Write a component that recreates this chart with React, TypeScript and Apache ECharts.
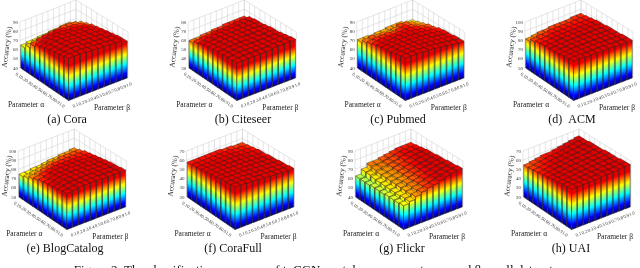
import React, { useEffect, useRef } from "react";
import * as echarts from "echarts";

const alphaTicks = ["0.1","0.2","0.3","0.4","0.5","0.6","0.7","0.8","0.9","1.0"];
const betaTicks = ["0.1","0.2","0.3","0.4","0.5","0.6","0.7","0.8","0.9","1.0"];

const cora = [
  [65,66,66,67,67,68,68,69,69,67],
  [69,70,71,72,73,73,74,74,73,71],
  [74,76,77,77,78,77,76,76,75,73],
  [77,79,80,80,80,79,79,78,77,75],
  [79,81,82,82,81,81,80,80,79,76],
  [81,82,83,83,82,82,81,81,80,77],
  [82,83,84,84,83,83,82,82,81,78],
  [83,84,85,84,84,83,83,82,82,79],
  [84,85,85,85,84,84,83,83,82,80],
  [86,86,86,85,85,84,84,83,83,80],
];
const citeseer = [
  [60,60,61,61,62,62,63,63,63,63],
  [63,64,64,65,65,65,65,66,66,66],
  [65,66,67,67,67,67,67,67,67,67],
  [67,67,68,68,68,68,68,68,68,67],
  [68,68,69,69,69,69,69,69,68,68],
  [69,69,70,70,70,69,69,69,69,69],
  [69,70,70,70,70,70,70,69,70,69],
  [70,70,71,71,70,70,70,70,70,70],
  [70,71,71,71,71,71,71,71,71,71],
  [71,71,71,71,71,71,72,72,72,72],
];
const pubmed = [
  [71,71,70,71,71,72,72,72,70,69],
  [74,75,74,74,73,74,76,75,73,71],
  [76,77,77,77,76,77,78,76,74,73],
  [78,79,79,79,79,79,79,78,76,75],
  [80,80,80,81,81,81,80,79,78,76],
  [81,82,82,82,82,81,81,80,79,78],
  [82,83,83,83,83,82,81,81,80,79],
  [83,84,84,84,84,83,82,81,80,79],
  [85,85,85,85,84,84,83,82,81,80],
  [86,86,86,85,85,84,83,82,81,80],
];
const acm = [
  [82,83,84,84,85,85,85,85,86,86],
  [85,86,86,87,87,87,87,87,87,87],
  [87,87,88,88,88,88,88,88,88,88],
  [88,88,89,89,89,89,89,89,89,89],
  [89,89,89,90,90,90,90,90,90,89],
  [89,90,90,90,90,90,90,90,90,90],
  [90,90,91,91,91,91,91,90,90,90],
  [91,91,91,91,91,91,91,91,91,90],
  [92,92,92,92,92,92,91,91,91,91],
  [93,93,92,92,92,92,92,91,91,91],
];
const blogCatalog = [
  [75,75,76,76,77,78,78,79,79,80],
  [77,78,79,80,81,81,82,82,82,82],
  [80,81,82,83,84,84,84,84,84,84],
  [82,84,85,86,86,86,86,86,85,85],
  [84,85,87,87,87,87,87,87,86,86],
  [85,87,88,88,89,88,88,88,87,87],
  [86,88,89,89,89,89,89,88,88,88],
  [87,89,90,90,90,90,89,89,89,89],
  [88,89,90,90,90,90,90,90,89,89],
  [89,90,91,91,91,91,90,90,90,90],
];
const coraFull = [
  [58,58,58,58,58,58,57,57,56,56],
  [59,59,59,59,59,59,59,58,58,57],
  [60,60,60,60,60,60,60,59,59,58],
  [61,61,61,61,61,61,60,60,59,59],
  [62,62,62,62,61,61,61,60,60,59],
  [63,63,63,62,62,62,61,61,60,60],
  [64,64,63,63,63,62,62,61,61,60],
  [65,64,64,64,63,63,62,62,61,61],
  [65,65,65,64,64,63,63,62,62,61],
  [66,66,65,65,64,64,63,63,62,62],
];
const flickr = [
  [63,68,72,72,73,74,75,76,76,76],
  [63,68,71,72,73,74,76,77,77,77],
  [63,67,70,71,73,74,76,77,78,78],
  [64,67,70,71,73,75,76,78,78,79],
  [64,67,70,71,73,75,77,78,79,79],
  [64,67,70,71,73,75,77,78,79,80],
  [65,67,70,72,73,75,77,78,80,80],
  [65,67,70,72,74,76,77,79,80,81],
  [65,68,70,72,74,76,78,79,80,81],
  [66,68,71,73,75,76,78,80,81,82],
];
const uai = [
  [55,56,57,58,58,59,60,61,62,63],
  [56,57,58,59,60,60,61,62,63,63],
  [57,58,59,60,60,61,62,62,63,64],
  [58,59,60,60,61,62,62,63,64,64],
  [59,60,60,61,62,62,63,63,64,64],
  [60,60,61,62,62,63,63,64,64,65],
  [61,61,62,62,63,63,64,64,65,65],
  [62,62,62,63,63,64,64,65,65,65],
  [63,63,63,63,64,64,65,65,65,66],
  [64,64,64,64,64,65,65,65,66,66],
];

const panelNames = ["(a) Cora","(b) Citeseer","(c) Pubmed","(d)  ACM","(e) BlogCatalog","(f) CoraFull","(g) Flickr","(h) UAI"];
const panelValues = [cora,citeseer,pubmed,acm,blogCatalog,coraFull,flickr,uai];
const zMins = [40,30,40,50,50,20,40,20];
const zMaxs = [90,80,90,100,100,70,90,70];
const colorMaxs = [82,69,84,93,90,64,82,64];
const originX = [20,188.3,356.7,525,18.3,186.5,355,523];
const originY = [68,68,68,68,197,197,197,197];
const captionX = [67,243,398,572,65,233,402,571];
const captionY = [119,119,119,119,248,248,248,248];
const figureCaption = "Figure 2: The classification accuracy of toCGN w.r.t. hyperparameters \u03b1 and \u03b2 on all datasets.";

const SERIF = '"Liberation Serif", "Times New Roman", serif';
const WALL = 46;
const FRONT = [48.5, 33];
const RIGHT = [108, 10];
const BACK = [56, -22];
const BAR = 0.86;

function base(a: number, b: number) {
  const x = (1 - b) * a * FRONT[0] + b * (1 - a) * BACK[0] + a * b * RIGHT[0];
  const y = (1 - b) * a * FRONT[1] + b * (1 - a) * BACK[1] + a * b * RIGHT[1];
  return [x, y];
}

function jet(t: number) {
  const c = (v: number) => Math.round(255 * Math.max(0, Math.min(1, v)));
  const r = Math.min(4 * t - 1.5, -4 * t + 4.5);
  const g = Math.min(4 * t - 0.5, -4 * t + 3.5);
  const b = Math.min(4 * t + 0.5, -4 * t + 2.5);
  return `rgb(${c(r)},${c(g)},${c(b)})`;
}
const jetKnots = [0, 0.125, 0.375, 0.625, 0.875];
const T_CAP = 0.9;

function faceFill(p0: number[], p1: number[], h: number, tTop: number) {
  const dx = p1[0] - p0[0], dy = p1[1] - p0[1];
  const L = Math.hypot(dx, dy) || 1;
  const nx = dy / L, ny = -dx / L;
  const proj = -h * ny;
  const x2 = p0[0] + nx * proj, y2 = p0[1] + ny * proj;
  const t1 = Math.max(0.001, tTop);
  const capped = Math.min(t1, T_CAP);
  const colorStops: any[] = [];
  for (const k of jetKnots) if (k < capped) colorStops.push({ offset: k / t1, color: jet(k) });
  colorStops.push({ offset: capped / t1, color: jet(capped) });
  if (capped < t1) colorStops.push({ offset: 1, color: jet(capped) });
  return { type: "linear", x: p0[0], y: p0[1], x2, y2, global: true, colorStops };
}

function makeRender(panel: number) {
  const ox = originX[panel], oy = originY[panel];
  const zMin = zMins[panel], zMax = zMaxs[panel], cMax = colorMaxs[panel];
  return (params: any, api: any) => {
    const ai = api.value(0), bi = api.value(1), z = api.value(2);
    const y0 = api.coord([0, zMin])[1];
    const lift = (v: number) => y0 - api.coord([0, v])[1];
    const P = (a: number, b: number, v: number) => {
      const q = base(a, b);
      return [ox + q[0], oy + q[1] - lift(v)];
    };
    const children: any[] = [];
    if (params.dataIndex === 0) {
      const wall = { stroke: "#d4d4d4", lineWidth: 0.6, fill: "none" };
      const seg = (p: number[], q: number[]) => children.push({ type: "line", shape: { x1: p[0], y1: p[1], x2: q[0], y2: q[1] }, style: wall, silent: true });
      for (let v = zMin; v <= zMax; v += 10) {
        seg(P(0, 0, v), P(0, 1, v));
        seg(P(0, 1, v), P(1, 1, v));
      }
      for (let i = 0; i <= 10; i++) {
        const t = i / 10;
        seg(P(0, t, zMin), P(0, t, zMax));
        seg(P(t, 1, zMin), P(t, 1, zMax));
      }
    }
    const g = (1 - BAR) / 2;
    const a0 = (ai + g) / 10, a1 = (ai + 1 - g) / 10;
    const b0 = (bi + g) / 10, b1 = (bi + 1 - g) / 10;
    const tTop = (z - zMin) / (cMax - zMin);
    const edge = { stroke: "#2b2b2b", lineWidth: 0.55 };
    const topEdge = { stroke: tTop < 0.78 ? "#5a4a10" : "#5e1412", lineWidth: 0.5 };
    const baseLeft = P(a0, b0, zMin), baseFront = P(a1, b0, zMin), baseRight = P(a1, b1, zMin);
    const topLeft = P(a0, b0, z), topFront = P(a1, b0, z), topRight = P(a1, b1, z), topBack = P(a0, b1, z);
    const h = lift(z);
    children.push({
      type: "polygon",
      shape: { points: [baseLeft, baseFront, topFront, topLeft] },
      style: { fill: faceFill(baseLeft, baseFront, h, tTop), ...edge },
    });
    children.push({
      type: "polygon",
      shape: { points: [baseFront, baseRight, topRight, topFront] },
      style: { fill: faceFill(baseFront, baseRight, h, tTop), ...edge },
    });
    children.push({
      type: "polygon",
      shape: { points: [topLeft, topFront, topRight, topBack] },
      style: { fill: jet(Math.min(tTop, T_CAP)), ...topEdge },
    });
    return { type: "group", children };
  };
}

function paintOrder(values: number[][]) {
  const out: number[][] = [];
  values.forEach((row, ai) => {
    for (let bi = row.length - 1; bi >= 0; bi--) out.push([ai, bi, row[bi]]);
  });
  return out;
}

function text(x: number, y: number, s: string, fontSize: number, extra: any = {}, rotation = 0) {
  return {
    type: "text", x, y, rotation, silent: true,
    style: { text: s, fontSize, fontFamily: SERIF, fill: "#222", align: "center", verticalAlign: "middle", ...extra },
  };
}

function buildOption() {
  const grid: any[] = [], xAxis: any[] = [], yAxis: any[] = [], series: any[] = [], graphics: any[] = [];
  panelValues.forEach((values, i) => {
    const ox = originX[i], oy = originY[i];
    grid.push({ left: ox, top: oy - WALL, width: RIGHT[0], height: WALL, containLabel: false });
    xAxis.push({ gridIndex: i, type: "value", min: 0, max: 1, show: false });
    yAxis.push({
      gridIndex: i, type: "value", min: zMins[i], max: zMaxs[i], interval: 10,
      axisLine: { show: false }, axisTick: { show: false }, splitLine: { show: false },
      axisLabel: { fontSize: 5, margin: 2, color: "#333", fontFamily: SERIF },
    });
    series.push({
      type: "custom", coordinateSystem: "cartesian2d", xAxisIndex: i, yAxisIndex: i,
      clip: false, silent: true, data: paintOrder(values), renderItem: makeRender(i),
    });
    alphaTicks.forEach((t, k) => {
      const q = base((k + 0.5) / 10, 0);
      graphics.push(text(ox + q[0] - 4, oy + q[1] + 5.5, t, 4.6, { fill: "#333" }, -0.6));
    });
    betaTicks.forEach((t, k) => {
      const q = base(1, (k + 0.5) / 10);
      graphics.push(text(ox + q[0] + 4, oy + q[1] + 5.5, t, 4.6, { fill: "#333" }, 0.35));
    });
    graphics.push(text(Math.max(ox - 14, 6.5), oy - 21, "Accuracy (%)", 7.4, {}, Math.PI / 2 - 0.12));
    graphics.push(text(ox + 6, oy + 36, "Parameter \u03b1", 7.5));
    graphics.push(text(ox + 92, oy + 39, "Parameter \u03b2", 7.5));
    graphics.push(text(captionX[i], captionY[i], panelNames[i].replace("  ", "\u00a0\u00a0"), 12, { fill: "#111" }));
  });
  graphics.push(text(317.5, 269.5, figureCaption, 13, { fill: "#111" }));
  return {
    animation: false,
    backgroundColor: "#fff",
    grid, xAxis, yAxis, series,
    graphic: { elements: graphics },
  };
}

export default function App() {
  const ref = useRef<HTMLDivElement>(null);
  useEffect(() => {
    document.body.style.margin = "0";
    const chart = echarts.init(ref.current!, undefined, { renderer: "svg" });
    chart.setOption(buildOption() as any);
    return () => chart.dispose();
  }, []);
  return <div ref={ref} style={{ width: 640, height: 268, overflow: "hidden", filter: "blur(0.4px)" }} />;
}
